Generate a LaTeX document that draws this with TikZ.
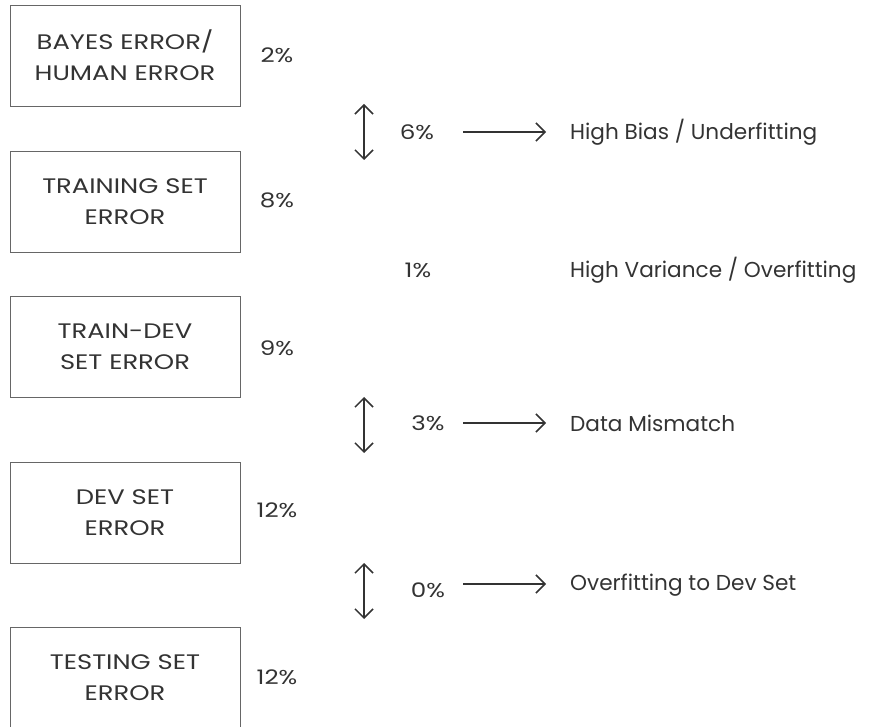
\documentclass[tikz,border=0pt]{standalone}
\usepackage{fontspec}
\setmainfont{Poppins}
\newfontfamily\widefont[FakeStretch=1.23]{Poppins}
\usetikzlibrary{arrows.meta}
\definecolor{ink}{HTML}{333333}
\definecolor{edge}{HTML}{666666}
\tikzset{
  errbox/.style={draw=edge, line width=0.9pt, minimum width=230pt, minimum height=101pt,
    align=center, text=ink, font=\widefont\fontsize{21}{31}\selectfont, inner sep=0pt},
  pct/.style={text=ink, font=\widefont\fontsize{20}{24}\selectfont, inner sep=0pt},
  lbl/.style={text=ink, font=\fontsize{21.6}{24}\selectfont, inner sep=0pt, anchor=west},
  barb/.tip={Straight Barb[length=9pt,width=18pt,line width=1.5pt]},
  gap/.style={draw=ink, line width=1.5pt, barb-barb},
  lead/.style={draw=ink, line width=1.5pt, -barb}
}
\begin{document}
\begin{tikzpicture}[x=1pt,y=-1pt]
\useasboundingbox (0,0) rectangle (887,727);

% error boxes on the left
\node[errbox] (bayes) at (125,55.5) {BAYES ERROR/\\HUMAN ERROR};
\node[errbox] (train) at (125,202) {TRAINING SET\\ERROR};
\node[errbox] (tdev)  at (125,347) {TRAIN-DEV\\SET ERROR};
\node[errbox] (dev)   at (125,513) {DEV SET\\ERROR};
\node[errbox] (test)  at (125,678) {TESTING SET\\ERROR};

% error rates beside the boxes
\node[pct] (pb) at (277,55) {2\%};
\node[pct] (pt) at (277,200) {8\%};
\node[pct] (pd) at (277,348) {9\%};
\node[pct] (pv) at (277,510) {12\%};
\node[pct] (ps) at (277,677) {12\%};

% gaps between consecutive errors
\coordinate (g1a) at (364,104); \coordinate (g1b) at (364,160);
\coordinate (g3a) at (364,397); \coordinate (g3b) at (364,453);
\coordinate (g4a) at (364,563); \coordinate (g4b) at (364,619);
\draw[gap] (g1a) -- (g1b);
\draw[gap] (g3a) -- (g3b);
\draw[gap] (g4a) -- (g4b);

\node[pct] (d1) at (417,132) {6\%};
\node[pct] (d2) at (418,270) {1\%};
\node[pct] (d3) at (428,423) {3\%};
\node[pct] (d4) at (428,590) {0\%};

% diagnoses
\node[lbl] (l1) at (570,132) {High Bias / Underfitting};
\node[lbl] (l2) at (570,270) {High Variance / Overfitting};
\node[lbl] (l3) at (570,423) {Data Mismatch};
\node[lbl] (l4) at (570,585) {Overfitting to Dev Set};

% arrows from gap to diagnosis
\coordinate (h1a) at (463,132); \coordinate (h1b) at (546,132);
\coordinate (h3a) at (463,423); \coordinate (h3b) at (546,423);
\coordinate (h4a) at (463,584); \coordinate (h4b) at (546,584);
\draw[lead] (h1a) -- (h1b);
\draw[lead] (h3a) -- (h3b);
\draw[lead] (h4a) -- (h4b);
\end{tikzpicture}
\end{document}
